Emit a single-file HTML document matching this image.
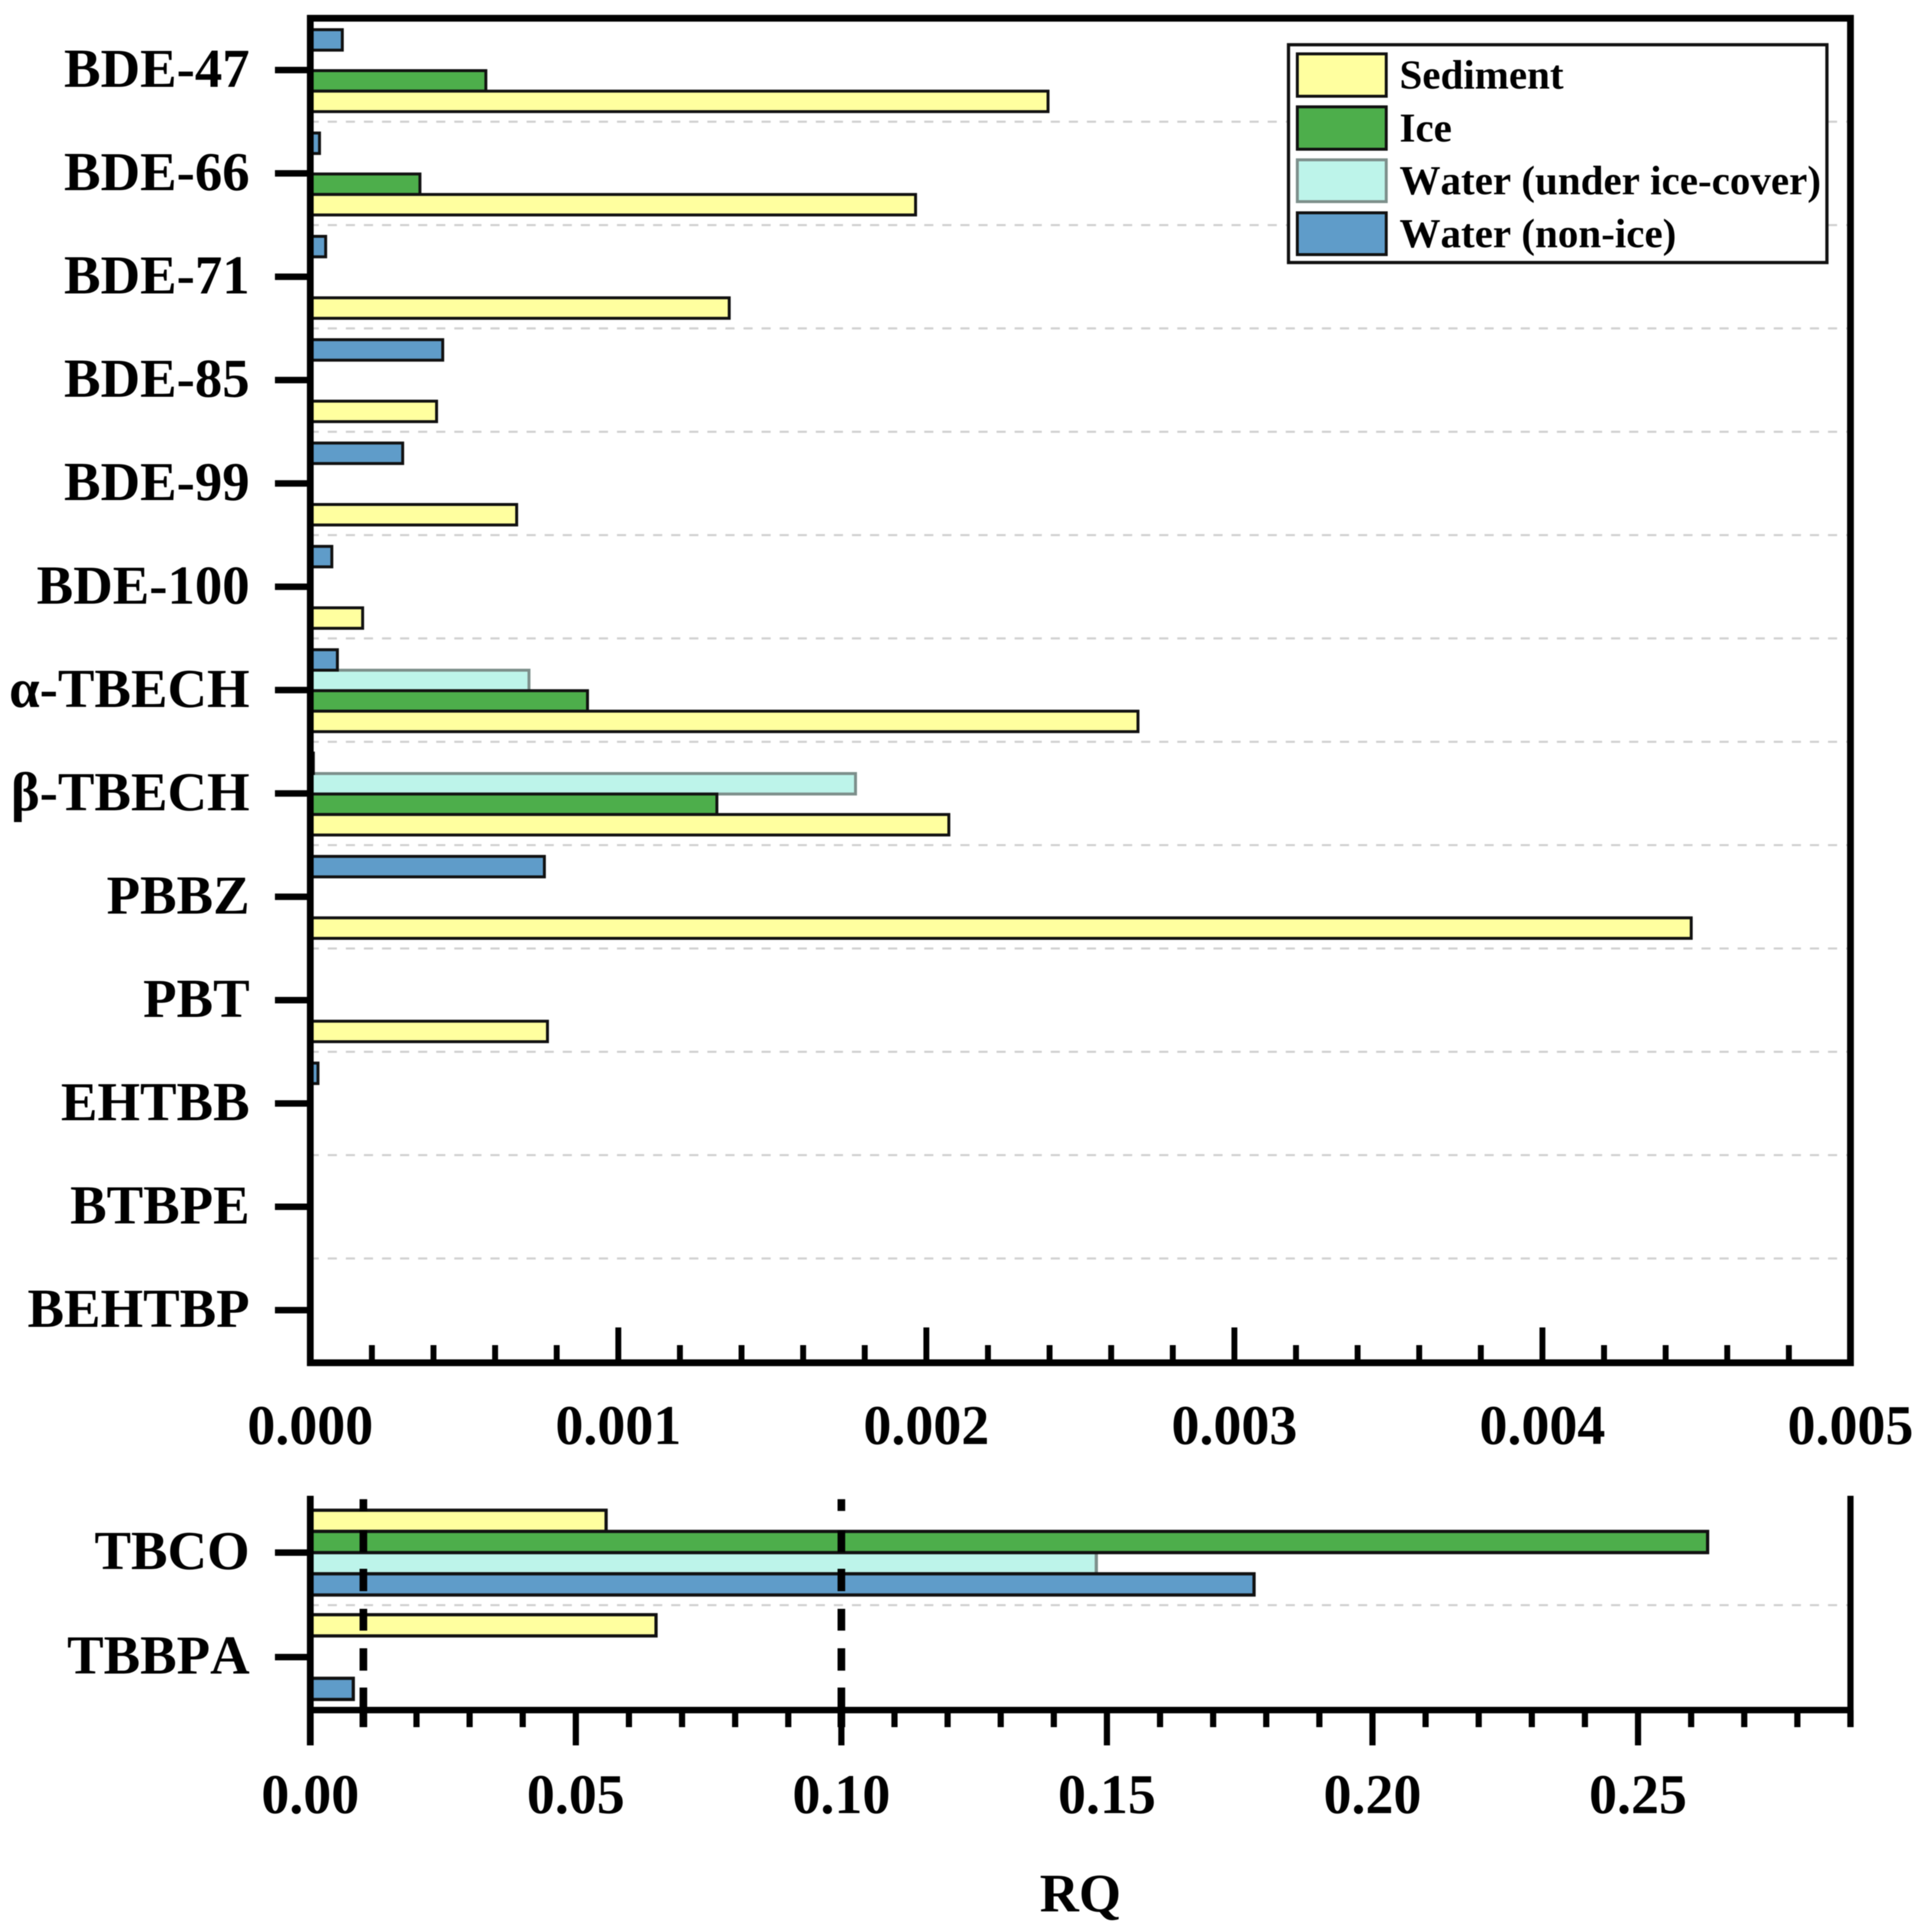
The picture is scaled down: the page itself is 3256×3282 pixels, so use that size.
<!DOCTYPE html>
<html lang="en">
<head>
<meta charset="utf-8">
<title>RQ bar chart</title>
<style>
html,body{margin:0;padding:0;background:#fff;}
svg{display:block;filter:blur(0.7px);}
text{font-family:"Liberation Serif","Times New Roman",serif;font-weight:bold;fill:#000;font-kerning:none;}
</style>
</head>
<body>
<svg id="chart" xmlns="http://www.w3.org/2000/svg" width="3256" height="3282" viewBox="0 0 3256 3282">
  <rect x="0" y="0" width="3256" height="3282" fill="#ffffff"/>
  <g id="main-grid"></g>
  <g id="main-bars"></g>
  <g id="main-axes"></g>
  <g id="low-grid"></g>
  <g id="low-bars"></g>
  <g id="low-refs"></g>
  <g id="low-axes"></g>
  <g>
    <rect x="2188.5" y="76" width="914.5" height="370" fill="#fff" stroke="#111" stroke-width="5.5"/>
    <rect x="2203.5" y="91.5" width="151" height="72" fill="#ffff9f" stroke="#111" stroke-width="5"/>
    <text x="2377" y="150.5" font-size="69.7">Sediment</text>
    <rect x="2203.5" y="181.5" width="151" height="72" fill="#4dae4b" stroke="#111" stroke-width="5"/>
    <text x="2377" y="240.5" font-size="69.7">Ice</text>
    <rect x="2203.5" y="271.5" width="151" height="71" fill="#bdf4ea" stroke="#7d8f8b" stroke-width="5"/>
    <text x="2377" y="330" font-size="69.7">Water (under ice-cover)</text>
    <rect x="2203.5" y="361.5" width="151" height="71" fill="#5f9cc9" stroke="#111" stroke-width="5"/>
    <text x="2377" y="420" font-size="69.7">Water (non-ice)</text>
  </g>
  <text x="1835" y="3247" font-size="92" text-anchor="middle">RQ</text>
</svg>
<script>
// Upper panel data
const mainCategories = ["BDE-47","BDE-66","BDE-71","BDE-85","BDE-99","BDE-100","α-TBECH","β-TBECH","PBBZ","PBT","EHTBB","BTBPE","BEHTBP"];
const mainNonIce   = [0.000104,0.00003,0.00005,0.00043,0.0003,0.00007,0.000088,0.00001,0.00076,0,0.000025,0,0];
const mainUnderIce = [0,0,0,0,0,0,0.00071,0.00177,0,0,0,0,0];
const mainIce      = [0.00057,0.000356,0,0,0,0,0.0009,0.00132,0,0,0,0,0];
const mainSediment = [0.002395,0.001965,0.00136,0.00041,0.00067,0.00017,0.002687,0.002073,0.004483,0.00077,0,0,0];
const mainTickLabels = ["0.000","0.001","0.002","0.003","0.004","0.005"];
const mainTickValues = [0,0.001,0.002,0.003,0.004,0.005];
const mainMinorValues = [0.0002,0.0004,0.0006,0.0008,0.0012,0.0014,0.0016,0.0018,0.0022,0.0024,0.0026,0.0028,0.0032,0.0034,0.0036,0.0038,0.0042,0.0044,0.0046,0.0048];
// Lower panel data
const lowCategories = ["TBCO","TBBPA"];
const lowSediment = [0.0557,0.0651];
const lowIce      = [0.2631,0];
const lowUnderIce = [0.148,0];
const lowNonIce   = [0.1777,0.0081];
const lowTickLabels = ["0.00","0.05","0.10","0.15","0.20","0.25"];
const lowTickValues = [0,0.05,0.10,0.15,0.20,0.25];
const lowMinorValues = [0.01,0.02,0.03,0.04,0.06,0.07,0.08,0.09,0.11,0.12,0.13,0.14,0.16,0.17,0.18,0.19,0.21,0.22,0.23,0.24,0.26,0.27,0.28,0.29];
const thresholds = [0.01,0.10];

const NS = "http://www.w3.org/2000/svg";
const AX_L = 527, AX_R = 3143;
const mainMax = 0.005, lowMax = 0.29;
const xMain = v => AX_L + v / mainMax * (AX_R - AX_L);
const xLow = v => AX_L + v / lowMax * (AX_R - AX_L);
const yMain = i => 119 + 175.55 * i;
const yLow = i => 2637.5 + 177.5 * i;
const COL = {sediment:"#ffff9f", ice:"#4dae4b", under:"#bdf4ea", nonice:"#5f9cc9"};
const STROKE = {sediment:"#111", ice:"#111", under:"#7d8f8b", nonice:"#111"};

function el(tag, attrs, parent, txt){
  const e = document.createElementNS(NS, tag);
  for (const k in attrs) e.setAttribute(k, attrs[k]);
  if (txt !== undefined) e.textContent = txt;
  parent.appendChild(e);
  return e;
}
function barRect(parent, x0, x1, yTop, h, key, sw){
  return el("rect", {x:x0, y:yTop, width:Math.max(0, x1-x0), height:h, fill:COL[key], stroke:STROKE[key], "stroke-width":sw}, parent);
}

// ---- Upper panel ----
const mainGrid = document.getElementById("main-grid");
const mainBars = document.getElementById("main-bars");
const mainAxes = document.getElementById("main-axes");
const mainSlot = 34.8;
const mainSeries = [["under",mainUnderIce,1],["nonice",mainNonIce,0],["ice",mainIce,2],["sediment",mainSediment,3]];

mainCategories.forEach((c,i)=>{
  const yc = yMain(i);
  if (i < mainCategories.length-1){
    const g = el("line",{x1:526,x2:3138,y1:yc+87.8,y2:yc+87.8,stroke:"#d0d0d0","stroke-width":3.5,"stroke-dasharray":"15.5 15.2"},mainGrid);
    
    
  }
  mainSeries.forEach(s=>{
    const v = s[1][i];
    if (v > 0){
      const r = barRect(mainBars, xMain(0), xMain(v), yc - 2*mainSlot + s[2]*mainSlot + 1, mainSlot, s[0], 5);
      
      
    }
  });
  const t = el("line",{x1:467,x2:528,y1:yc,y2:yc,stroke:"#000","stroke-width":11},mainAxes);
  
  
  const lb = el("text",{x:424,y:yc+28.5,"font-size":93,"text-anchor":"end"},mainAxes,c);
  
  
});
mainMinorValues.forEach(v=>{
  const t = el("line",{x1:xMain(v),x2:xMain(v),y1:2285,y2:2315,stroke:"#000","stroke-width":10},mainAxes);
  
  
});
mainTickValues.forEach((v,i)=>{
  const t = el("line",{x1:xMain(v),x2:xMain(v),y1:2255,y2:2315,stroke:"#000","stroke-width":10},mainAxes);
  
  
  const lb = el("text",{x:xMain(v),y:2453,"font-size":95,"text-anchor":"middle"},mainAxes,mainTickLabels[i]);
  
  
});
const frame = el("rect",{x:AX_L,y:31,width:AX_R-AX_L,height:2284,fill:"none",stroke:"#000"},mainAxes);
frame.setAttribute('stroke-width','11.5');



// ---- Lower panel ----
const lowGrid = document.getElementById("low-grid");
const lowBars = document.getElementById("low-bars");
const lowRefs = document.getElementById("low-refs");
const lowAxes = document.getElementById("low-axes");
const lowSlot = 36;
const lowSeries = [["under",lowUnderIce,2],["sediment",lowSediment,0],["ice",lowIce,1],["nonice",lowNonIce,3]];

const sep = el("line",{x1:526,x2:3138,y1:2726.7,y2:2726.7,stroke:"#d0d0d0","stroke-width":3.5,"stroke-dasharray":"15.5 15.2"},lowGrid);



lowCategories.forEach((c,i)=>{
  const yc = yLow(i);
  lowSeries.forEach(s=>{
    const v = s[1][i];
    if (v > 0){
      const r = barRect(lowBars, xLow(0), xLow(v), yc - 2*lowSlot + s[2]*lowSlot, lowSlot, s[0], 5.5);
      
      
    }
  });
  const t = el("line",{x1:467,x2:528,y1:yc,y2:yc,stroke:"#000","stroke-width":11},lowAxes);
  
  
  const lb = el("text",{x:424,y:yc+28,"font-size":93,"text-anchor":"end"},lowAxes,c);
  
  
});
thresholds.forEach(v=>{
  const r = el("line",{x1:xLow(v),x2:xLow(v),y1:2546.7,y2:2934,stroke:"#000","stroke-width":13,"stroke-dasharray":"20 33.3 37 28 38 30 37 30 38 28.7 68"},lowRefs);
  
  
});
lowMinorValues.forEach(v=>{
  const t = el("line",{x1:xLow(v),x2:xLow(v),y1:2905,y2:2934,stroke:"#000","stroke-width":10.5},lowAxes);
  
  
});
lowTickValues.forEach((v,i)=>{
  const t = el("line",{x1:xLow(v),x2:xLow(v),y1:2905,y2:2965,stroke:"#000","stroke-width":10.5},lowAxes);
  
  
  const lb = el("text",{x:xLow(v),y:3080,"font-size":95,"text-anchor":"middle"},lowAxes,lowTickLabels[i]);
  
  
});
const lowX = el("line",{x1:AX_L-5,x2:AX_R+5,y1:2905,y2:2905,stroke:"#000","stroke-width":11},lowAxes);


const lowLeft = el("line",{x1:AX_L,x2:AX_L,y1:2541,y2:2965,stroke:"#000","stroke-width":11.5},lowAxes);


const lowRight = el("line",{x1:AX_R,x2:AX_R,y1:2541,y2:2934,stroke:"#000","stroke-width":10.5},lowAxes);


</script>
</body>
</html>
